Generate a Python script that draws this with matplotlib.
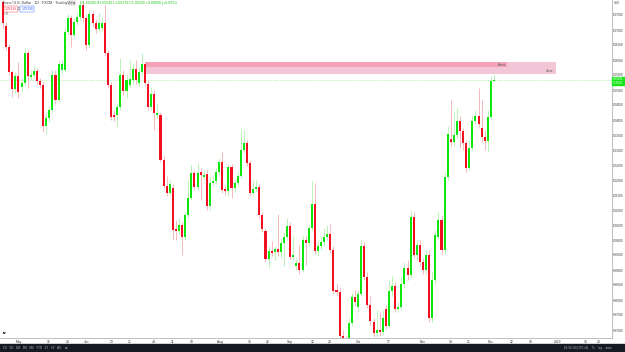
import matplotlib
matplotlib.use("Agg")
import matplotlib.pyplot as plt
from matplotlib.patches import Rectangle

plt.rcParams["font.family"] = ["Liberation Sans", "DejaVu Sans"]

# ---------------- data (EUR/USD daily) ----------------
opens = [1.0793,1.0713,1.0643,1.0560,1.0503,1.0547,1.0510,1.0523,1.0623,1.0543,
         1.0550,1.0563,1.0530,1.0517,1.0380,1.0407,1.0433,1.0550,1.0467,1.0567,
         1.0567,1.0693,1.0740,1.0683,1.0727,1.0743,1.0783,1.0740,1.0650,1.0753,
         1.0723,1.0703,1.0707,1.0723,1.0623,1.0517,1.0417,1.0417,1.0443,1.0550,
         1.0497,1.0517,1.0533,1.0570,1.0523,1.0560,1.0587,1.0520,1.0443,1.0487,
         1.0417,1.0417,1.0267,1.0180,1.0157,1.0173,1.0037,1.0030,1.0050,1.0010,
         1.0083,1.0140,1.0223,1.0177,1.0227,1.0210,1.0220,1.0113,1.0190,1.0197,
         1.0227,1.0260,1.0170,1.0163,1.0243,1.0173,1.0190,1.0213,1.0300,1.0323,
         1.0257,1.0157,1.0170,1.0177,1.0083,1.0030,0.9937,0.9963,0.9960,0.9970,
         0.9960,0.9990,1.0010,1.0047,0.9943,0.9913,0.9923,0.9900,1.0000,0.9990,
         1.0040,1.0120,0.9963,0.9980,0.9993,1.0010,1.0020,0.9967,0.9833,0.9827,
         0.9680,0.9605,0.9595,0.9723,0.9810,0.9777,0.9820,0.9980,0.9877,0.9783,
         0.9727,0.9690,0.9700,0.9693,0.9770,0.9713,0.9830,0.9847,0.9770,0.9777,
         0.9853,0.9907,0.9883,1.0077,0.9950,0.9983,0.9927,0.9900,0.9950,0.9740,
         0.9867,1.0010,1.0067,0.9967,1.0210,1.0337,1.0327,1.0350,1.0397,1.0363,
         1.0323,1.0240,1.0307,1.0397,1.0413,1.0373,1.0343,1.0330,1.0410,1.0530]
highs = [1.0800,1.0727,1.0653,1.0567,1.0560,1.0593,1.0540,1.0640,1.0633,1.0567,
         1.0580,1.0573,1.0540,1.0527,1.0427,1.0447,1.0567,1.0567,1.0600,1.0600,
         1.0707,1.0753,1.0750,1.0740,1.0757,1.0793,1.0797,1.0753,1.0767,1.0763,
         1.0737,1.0757,1.0740,1.0783,1.0633,1.0527,1.0433,1.0453,1.0607,1.0567,
         1.0553,1.0600,1.0587,1.0600,1.0577,1.0623,1.0593,1.0533,1.0507,1.0500,
         1.0453,1.0427,1.0280,1.0213,1.0200,1.0187,1.0067,1.0073,1.0060,1.0093,
         1.0200,1.0250,1.0233,1.0257,1.0240,1.0233,1.0233,1.0213,1.0217,1.0240,
         1.0273,1.0293,1.0183,1.0253,1.0253,1.0200,1.0227,1.0373,1.0367,1.0333,
         1.0267,1.0200,1.0200,1.0187,1.0093,1.0040,0.9980,0.9997,0.9980,1.0087,
         1.0007,1.0027,1.0073,1.0060,1.0013,0.9940,0.9983,1.0013,1.0017,1.0050,
         1.0197,1.0190,1.0000,1.0013,1.0040,1.0050,1.0053,0.9980,0.9853,0.9840,
         0.9700,0.9680,0.9740,0.9823,0.9833,0.9833,1.0000,0.9993,0.9893,0.9813,
         0.9740,0.9767,0.9760,0.9767,0.9783,0.9867,0.9880,0.9860,0.9793,0.9880,
         0.9927,0.9933,1.0100,1.0093,1.0000,1.0000,0.9940,0.9967,0.9967,0.9893,
         1.0033,1.0093,1.0083,1.0227,1.0380,1.0467,1.0427,1.0440,1.0413,1.0373,
         1.0333,1.0333,1.0417,1.0433,1.0507,1.0467,1.0367,1.0433,1.0547,1.0553]
lows = [1.0707,1.0633,1.0550,1.0477,1.0490,1.0473,1.0493,1.0513,1.0507,1.0533,
        1.0540,1.0520,1.0507,1.0360,1.0353,1.0393,1.0427,1.0453,1.0460,1.0557,
        1.0560,1.0683,1.0643,1.0673,1.0717,1.0733,1.0727,1.0633,1.0643,1.0710,
        1.0690,1.0693,1.0697,1.0613,1.0507,1.0400,1.0397,1.0377,1.0433,1.0483,
        1.0473,1.0507,1.0520,1.0520,1.0513,1.0550,1.0513,1.0433,1.0433,1.0367,
        1.0407,1.0260,1.0173,1.0147,1.0147,1.0000,1.0000,1.0020,0.9950,1.0000,
        1.0073,1.0133,1.0167,1.0167,1.0133,1.0200,1.0100,1.0100,1.0180,1.0187,
        1.0217,1.0157,1.0150,1.0147,1.0140,1.0160,1.0180,1.0207,1.0290,1.0247,
        1.0147,1.0147,1.0160,1.0073,1.0027,0.9927,0.9907,0.9947,0.9933,0.9947,
        0.9940,0.9913,1.0000,0.9933,0.9933,0.9900,0.9887,0.9893,0.9917,0.9980,
        1.0033,0.9953,0.9947,0.9967,0.9980,1.0000,0.9957,0.9820,0.9813,0.9670,
        0.9555,0.9565,0.9540,0.9713,0.9780,0.9760,0.9813,0.9867,0.9773,0.9717,
        0.9677,0.9677,0.9680,0.9683,0.9703,0.9707,0.9813,0.9760,0.9760,0.9767,
        0.9840,0.9867,0.9873,0.9940,0.9933,0.9913,0.9887,0.9887,0.9727,0.9727,
        0.9853,1.0000,0.9953,0.9953,1.0200,1.0313,1.0313,1.0340,1.0307,1.0300,
        1.0227,1.0233,1.0300,1.0387,1.0373,1.0327,1.0300,1.0293,1.0400,1.0527]
closes = [1.0723,1.0643,1.0560,1.0503,1.0547,1.0493,1.0523,1.0623,1.0547,1.0550,
          1.0563,1.0530,1.0517,1.0380,1.0407,1.0433,1.0550,1.0467,1.0587,1.0587,
          1.0693,1.0740,1.0683,1.0727,1.0743,1.0783,1.0740,1.0650,1.0753,1.0723,
          1.0703,1.0723,1.0723,1.0623,1.0517,1.0410,1.0410,1.0443,1.0550,1.0497,
          1.0533,1.0537,1.0570,1.0533,1.0560,1.0587,1.0523,1.0443,1.0487,1.0423,
          1.0423,1.0267,1.0180,1.0157,1.0187,1.0033,1.0030,1.0050,1.0010,1.0083,
          1.0140,1.0223,1.0177,1.0223,1.0217,1.0217,1.0113,1.0190,1.0197,1.0227,
          1.0260,1.0167,1.0163,1.0243,1.0173,1.0190,1.0213,1.0300,1.0323,1.0257,
          1.0157,1.0170,1.0177,1.0083,1.0037,0.9937,0.9963,0.9957,0.9970,0.9960,
          0.9990,1.0010,1.0047,0.9943,0.9950,0.9923,0.9900,1.0000,0.9990,1.0040,
          1.0120,0.9963,0.9980,0.9993,1.0010,1.0020,0.9967,0.9830,0.9827,0.9680,
          0.9605,0.9595,0.9723,0.9810,0.9793,0.9820,0.9980,0.9877,0.9783,0.9730,
          0.9690,0.9700,0.9693,0.9740,0.9713,0.9830,0.9847,0.9770,0.9777,0.9853,
          0.9907,0.9883,1.0077,0.9950,0.9983,0.9927,0.9900,0.9950,0.9740,0.9867,
          1.0017,1.0067,0.9967,1.0210,1.0353,1.0327,1.0350,1.0397,1.0363,1.0323,
          1.0240,1.0307,1.0397,1.0413,1.0387,1.0343,1.0330,1.0410,1.0530,1.0533]

date_ticks = [5.2, 14.9, 21.0, 27.2, 35.3, 41.1, 48.9, 55.0, 61.2, 70.3, 80.0, 85.8,
              92.9, 100.1, 105.9, 115.0, 125.0, 136.0, 145.1, 150.9, 158.0, 164.8,
              171.0, 179.7, 188.5, 193.0]
date_labels = ["May", "16", "23", "Jun", "13", "21", "Jul", "11", "19", "Aug", "15", "22",
               "Sep", "12", "20", "Oct", "17", "Nov", "14", "21", "Dec", "12",
               "19", "2023", "16", "23"]
price_ticks = [1.075, 1.070, 1.065, 1.060, 1.055, 1.050, 1.045, 1.040, 1.035, 1.030,
               1.025, 1.020, 1.015, 1.010, 1.005, 1.000, 0.995, 0.990, 0.985, 0.980,
               0.975, 0.970]

zone_top, zone_mid, zone_bottom = 1.0593, 1.0577, 1.0553
zone_start, zone_dark_end, zone_end = 46, 163.2, 179.0

# ---------------- style ----------------
UP = "#0ee60e"
DN = "#f20f1f"
UP_W = "#b9f3b9"
DN_W = "#f7b7bf"
W, H = 625, 352

fig = plt.figure(figsize=(W / 100, H / 100), dpi=100)
fig.patch.set_facecolor("white")
ax_bottom_px = H - 338.3
ax = fig.add_axes([0, ax_bottom_px / H, 611.5 / W, 338.3 / H])
ax.set_facecolor("white")

n = len(closes)
xs = list(range(n))

# pink zone
ax.fill_between([zone_start, zone_end], zone_bottom, zone_top, color="#f2c6d6", lw=0, zorder=1)
ax.fill_between([zone_start, zone_dark_end], zone_mid, zone_top, color="#f3a2b7", lw=0, zorder=1)
ax.text(zone_dark_end - 0.5, (zone_mid + zone_top) / 2, "Area", fontsize=2.4,
        ha="right", va="center", color="#555555", zorder=2)
ax.text(zone_end - 0.8, (zone_bottom + zone_mid) / 2, "Zone", fontsize=2.4,
        ha="right", va="center", color="#555555", zorder=2)

# wicks and bodies
for i in xs:
    up = closes[i] >= opens[i]
    ax.vlines(i, lows[i], highs[i], color=UP_W if up else DN_W, lw=0.7, zorder=3)
for i in xs:
    up = closes[i] >= opens[i]
    lo = min(opens[i], closes[i])
    hgt = max(abs(closes[i] - opens[i]), 0.0004)
    ax.bar(i, hgt, bottom=lo, width=0.66, color=UP if up else DN, lw=0, zorder=4)

# last price line
ax.axhline(closes[-1], color="#7fe87f", lw=0.5, ls=(0, (1, 1.5)), zorder=2)

ax.set_xlim(-0.97, 197.05)
ax.set_ylim(1.08 - 338.3 / 3000, 1.08)

for s in ["top", "left"]:
    ax.spines[s].set_visible(False)
for s in ["right", "bottom"]:
    ax.spines[s].set_color("#b2b5be")
    ax.spines[s].set_linewidth(0.6)

ax.yaxis.tick_right()
ax.set_yticks(price_ticks)
ax.set_yticklabels([f"{v:.5f}" for v in price_ticks])
ax.tick_params(axis="y", length=0, pad=1.0, labelsize=2.1, labelcolor="#333333")
ax.set_xticks(date_ticks)
ax.set_xticklabels(date_labels)
ax.tick_params(axis="x", length=0, pad=1.0, labelsize=2.4, labelcolor="#333333")

# last price tag on the price scale
fig.patches.append(Rectangle((612 / W, (H - 85) / H), 13 / W, 8 / H, transform=fig.transFigure,
                             color="#19e619", zorder=5))
fig.text(618.3 / W, (H - 79.5) / H, f"{closes[-1]:.5f}", fontsize=2.0, color="white",
         ha="center", va="center", zorder=6)
fig.text(618.3 / W, (H - 83) / H, "07:28:36", fontsize=1.8, color="white",
         ha="center", va="center", zorder=6)
fig.text(617 / W, (H - 3) / H, "USD", fontsize=2.1, color="#555555", ha="center", va="center")

# header texts
fig.text(3 / W, (H - 3) / H, "Euro / U.S. Dollar · 1D · FXCM · TradingView", fontsize=2.6,
         color="#333333", ha="left", va="center")
fig.text(80 / W, (H - 3) / H,
         f"O{opens[-1]:.5f} H{highs[-1]:.5f} L{lows[-1]:.5f} C{closes[-1]:.5f} "
         f"+{closes[-1] - opens[-1]:.5f} (+{(closes[-1] - opens[-1]) / opens[-1] * 100:.2f}%)",
         fontsize=2.6, color="#14c814", ha="left", va="center")
fig.patches.append(Rectangle((69 / W, (H - 5) / H), 6 / W, 4 / H, transform=fig.transFigure,
                             facecolor="#eeeeee", edgecolor="#999999", lw=0.3))
fig.text(11 / W, (H - 9) / H, f"{closes[-1] - 0.00012:.5f}", fontsize=2.3, color="#f23645",
         ha="center", va="center",
         bbox=dict(boxstyle="square,pad=0.25", fc="white", ec="#f23645", lw=0.3))
fig.text(19 / W, (H - 9) / H, "2.0", fontsize=2.0, color="#555555", ha="center", va="center")
fig.text(27 / W, (H - 9) / H, f"{closes[-1] + 0.00008:.5f}", fontsize=2.3, color="#2962ff",
         ha="center", va="center",
         bbox=dict(boxstyle="square,pad=0.25", fc="white", ec="#2962ff", lw=0.3))
fig.text(3 / W, (H - 14) / H, "˅ 0", fontsize=2.3, color="#333333", ha="left", va="center")

# logo
fig.text(3 / W, (H - 333) / H, "tv", fontsize=3.0, color="#131722", fontweight="bold",
         ha="left", va="center")

# bottom toolbar
fig.patches.append(Rectangle((0, 0), 1, 8 / H, transform=fig.transFigure,
                             color="#161a25", zorder=5))
fig.text(3 / W, 4 / H, "1D   5D   1M   3M   6M   YTD   1Y   5Y   All     ⊡", fontsize=2.2,
         color="#b2b5be", ha="left", va="center", zorder=6)
fig.text(576 / W, 4 / H, "16:31:24 (UTC+8)", fontsize=2.2, color="#b2b5be",
         ha="center", va="center", zorder=6)
fig.text(602 / W, 4 / H, "%    log    auto", fontsize=2.2, color="#b2b5be",
         ha="center", va="center", zorder=6)

fig.savefig("out.png", dpi=100, facecolor="white")
